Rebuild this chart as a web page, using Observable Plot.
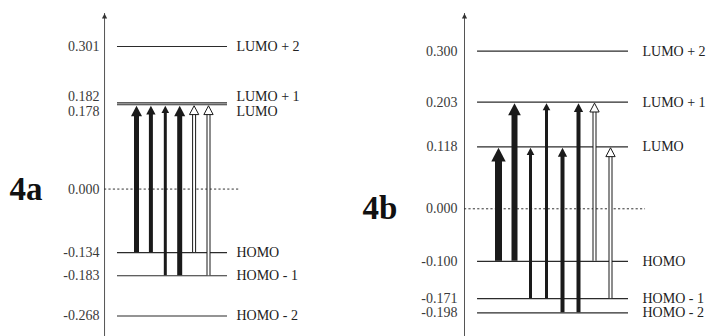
<!DOCTYPE html>
<html><head><meta charset="utf-8">
<script src="https://cdn.jsdelivr.net/npm/d3@7"></script>
<script src="https://cdn.jsdelivr.net/npm/@observablehq/plot@0.6"></script>
<style>
html,body{margin:0;padding:0;background:#fff;}
#wrap{position:relative;width:717px;height:336px;overflow:hidden;background:#fff;}
#pa{position:absolute;left:0;top:0;}
#pb{position:absolute;left:358px;top:0;}
</style></head><body><div id="wrap"><div id="pa"></div><div id="pb"></div></div>
<script>
// ---------- Panel 4a data ----------
const levelNamesA = ["LUMO + 2", "LUMO + 1", "LUMO", "HOMO", "HOMO - 1", "HOMO - 2"];
const levelValuesA = [0.301, 0.182, 0.178, -0.134, -0.183, -0.268];
const tickLabelsA = ["0.301", "0.182", "0.178", "0.000", "-0.134", "-0.183", "-0.268"];
const tickValuesA = [0.301, 0.182, 0.178, 0, -0.134, -0.183, -0.268];
const arrowFromA = ["HOMO", "HOMO", "HOMO - 1", "HOMO - 1", "HOMO", "HOMO - 1"];
const arrowToA = ["LUMO", "LUMO", "LUMO", "LUMO", "LUMO", "LUMO"];
const arrowWeightA = [3, 2, 1, 3, 2, 2];
const arrowOpenA = [false, false, false, false, true, true];

// ---------- Panel 4b data ----------
const levelNamesB = ["LUMO + 2", "LUMO + 1", "LUMO", "HOMO", "HOMO - 1", "HOMO - 2"];
const levelValuesB = [0.300, 0.203, 0.118, -0.100, -0.171, -0.198];
const tickLabelsB = ["0.300", "0.203", "0.118", "0.000", "-0.100", "-0.171", "-0.198"];
const tickValuesB = [0.300, 0.203, 0.118, 0, -0.100, -0.171, -0.198];
const arrowFromB = ["HOMO", "HOMO", "HOMO - 1", "HOMO - 1", "HOMO - 2", "HOMO - 2", "HOMO", "HOMO - 1"];
const arrowToB = ["LUMO", "LUMO + 1", "LUMO", "LUMO + 1", "LUMO", "LUMO + 1", "LUMO + 1", "LUMO"];
const arrowWeightB = [5, 4, 1, 1, 2, 2, 2, 2];
const arrowOpenB = [false, false, false, false, false, false, true, true];

// ---------- drawing ----------
const FONT = "Liberation Serif, Times New Roman, serif";
const INK = "#1a1a1a";
const FS = 14;
const headSymbol = {
  draw(ctx, size) {
    const r = Math.sqrt(size / Math.PI);
    const h = 1.9 * r;
    ctx.moveTo(0, 0); ctx.lineTo(r, h); ctx.lineTo(-r, h); ctx.closePath();
  }
};
const shaftW = w => 2 + w;
const headW = w => 1.7 * shaftW(w) + 2.5;

function panel(cfg) {
  const levels = cfg.names.map((n, i) => ({name: n, v: cfg.values[i]}));
  const vOf = Object.fromEntries(levels.map(d => [d.name, d.v]));
  const arrows = cfg.from.map((f, i) => ({i, top: vOf[cfg.to[i]], bottom: vOf[f], w: cfg.weight[i], open: cfg.open[i]}));
  // push labels of nearly coincident levels apart (in pixels)
  const pxPerUnit = Math.abs(cfg.yRange[0] - cfg.yRange[1]) / Math.abs(cfg.yDomain[1] - cfg.yDomain[0]);
  const need = 14.5;
  const shift = v => {
    let s = 0;
    for (const u of cfg.tickVals) {
      if (u === v) continue;
      const d = Math.abs(u - v) * pxPerUnit;
      if (d < need) s += (u > v ? 1 : -1) * (need - d) / 2;
    }
    return Math.round(s * 2) / 2;
  };
  const ticks = cfg.tickVals.map((v, i) => ({v, t: cfg.ticks[i], s: shift(v)}));
  const names = levels.map(d => ({...d, s: shift(d.v)}));
  const shifts = [...new Set(ticks.map(d => d.s))];
  const L = cfg.layout;
  const marks = [
    Plot.ruleX([L.axis], {x: d => d, stroke: "#555", strokeWidth: 1}),
    Plot.dot([L.axis], {x: d => d, frameAnchor: "top", symbol: headSymbol, r: 2.6, fill: "#333", stroke: "none"}),
    Plot.ruleY([0], {y: d => d, x1: L.axis, x2: L.dotEnd, stroke: "#333", strokeWidth: 1, strokeDasharray: "2.2,2.2"}),
    Plot.ruleY(levels, {y: "v", x1: L.lineStart, x2: L.lineEnd, stroke: "#2b2b2b", strokeWidth: 1.2}),
  ];
  for (const k of shifts) {
    marks.push(Plot.text(ticks.filter(d => d.s === k), {x: L.tickX, y: "v", text: "t", textAnchor: "end", dy: k, fill: "#3a3a3a", fontSize: FS}));
    marks.push(Plot.text(names.filter(d => d.s === k), {x: L.nameX, y: "v", text: "name", textAnchor: "start", dy: k, fill: "#222", fontSize: FS}));
  }
  for (const a of arrows) {
    const sw = shaftW(a.w), hw = headW(a.w), hh = 0.95 * hw;
    marks.push(Plot.ruleX([a], {x: "i", y1: "top", y2: "bottom", stroke: INK, strokeWidth: sw, insetTop: hh * 0.75}));
    if (a.open) marks.push(Plot.ruleX([a], {x: "i", y1: "top", y2: "bottom", stroke: "white", strokeWidth: sw - 2, insetTop: hh * 0.75}));
    marks.push(Plot.dot([a], {x: "i", y: "top", r: hw / 2, symbol: headSymbol, dy: 1,
      fill: a.open ? "white" : INK, stroke: a.open ? INK : "none", strokeWidth: 1}));
  }
  marks.push(Plot.text([cfg.label], {text: d => d, frameAnchor: "left", y: 0, dx: L.labelDx, textAnchor: "start",
    fontSize: 33, fontWeight: "bold", fill: "#111"}));
  return Plot.plot({
    width: cfg.width, height: 336,
    marginTop: 13, marginBottom: 0, marginLeft: 0, marginRight: 0,
    style: {fontFamily: FONT, background: "white"},
    x: {type: "linear", domain: L.xDomain, range: L.xRange, axis: null},
    y: {domain: cfg.yDomain, range: cfg.yRange, axis: null},
    r: {type: "identity"},
    marks
  });
}

document.getElementById("pa").append(panel({
  names: levelNamesA, values: levelValuesA, ticks: tickLabelsA, tickVals: tickValuesA,
  from: arrowFromA, to: arrowToA, weight: arrowWeightA, open: arrowOpenA, label: "4a",
  width: 358, yDomain: [-0.268, 0.301], yRange: [315.5, 46],
  layout: {xDomain: [0, 5], xRange: [136, 208], axis: -2.22, lineStart: -1.32, lineEnd: 6.32,
    nameX: 6.94, tickX: -2.57, dotEnd: 7.22, labelDx: 9}
}));
document.getElementById("pb").append(panel({
  names: levelNamesB, values: levelValuesB, ticks: tickLabelsB, tickVals: tickValuesB,
  from: arrowFromB, to: arrowToB, weight: arrowWeightB, open: arrowOpenB, label: "4b",
  width: 359, yDomain: [-0.198, 0.300], yRange: [312.3, 50.7],
  layout: {xDomain: [0, 7], xRange: [140, 252], axis: -2.125, lineStart: -1.31, lineEnd: 8.125,
    nameX: 9.0, tickX: -2.56, dotEnd: 9.19, labelDx: 4}
}));
</script></body></html>
